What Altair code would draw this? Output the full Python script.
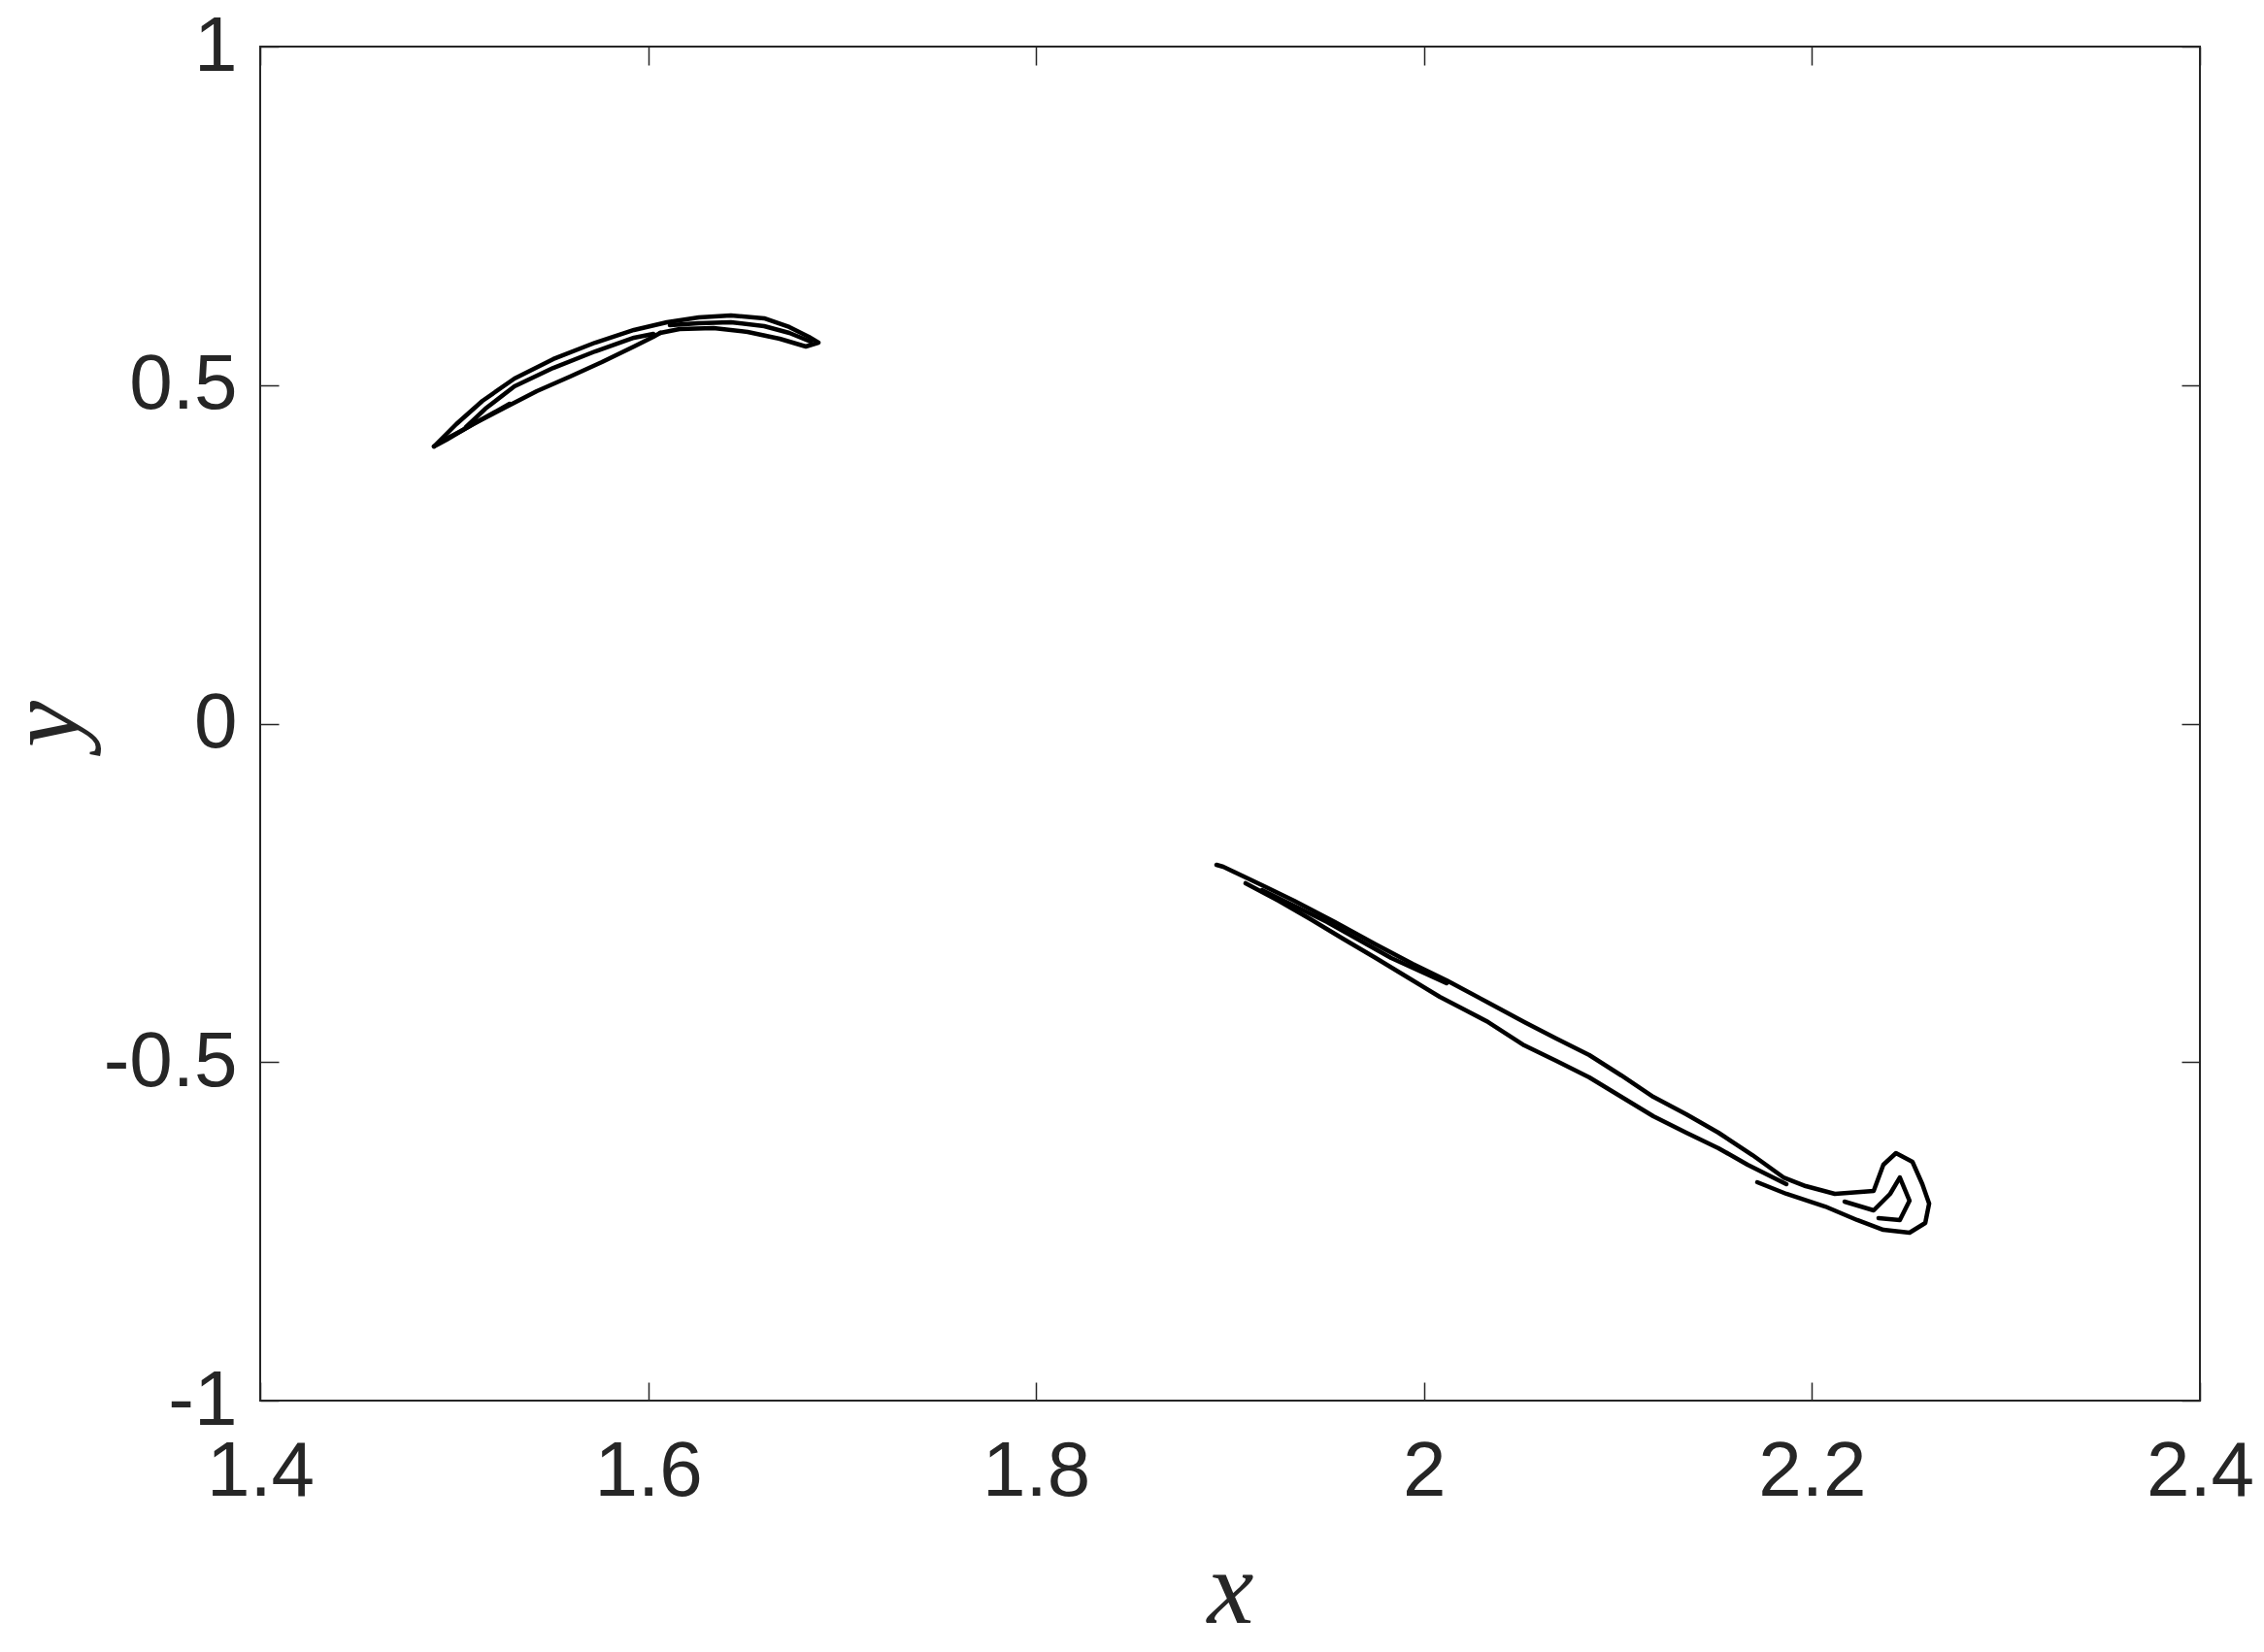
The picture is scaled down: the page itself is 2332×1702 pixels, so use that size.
import altair as alt
import pandas as pd

# ---- tick values / labels ----
X_TICKS = [1.4, 1.6, 1.8, 2.0, 2.2, 2.4]
Y_TICKS = [-1, -0.5, 0, 0.5, 1]

# ---- attractor strands (data units) ----
# upper piece
up_outer_x = [1.4896, 1.5011, 1.5146, 1.5311, 1.5511, 1.5727, 1.5927, 1.6097, 1.6262, 1.6427,
              1.6598, 1.6728, 1.6828, 1.6878, 1.6813, 1.6678, 1.6513, 1.6337, 1.6162, 1.6062]
up_outer_y = [0.4093, 0.4423, 0.4767, 0.5097, 0.5384, 0.5627, 0.5814, 0.5928, 0.6000, 0.6029,
              0.5986, 0.5857, 0.5713, 0.5627, 0.5570, 0.5685, 0.5785, 0.5842, 0.5828, 0.5771]
up_lower_x = [1.6062, 1.6027, 1.5927, 1.5762, 1.5597, 1.5426, 1.5261, 1.5096, 1.4961, 1.4896]
up_lower_y = [0.5771, 0.5713, 0.5570, 0.5340, 0.5125, 0.4910, 0.4667, 0.4423, 0.4194, 0.4093]
up_inner_x = [1.5061, 1.5161, 1.5311, 1.5511, 1.5727, 1.5927, 1.6027]
up_inner_y = [0.4380, 0.4652, 0.4982, 0.5254, 0.5498, 0.5699, 0.5756]
up_band_x = [1.6112, 1.6262, 1.6427, 1.6598, 1.6728, 1.6838]
up_band_y = [0.5885, 0.5914, 0.5928, 0.5871, 0.5771, 0.5642]
up_tip_x = [1.4921, 1.5036, 1.5161, 1.5286]
up_tip_y = [0.4150, 0.4323, 0.4523, 0.4724]

# lower piece
lo_main_x = [1.8930, 1.8965, 1.9165, 1.9330, 1.9541, 1.9751, 1.9941, 2.0116, 2.0331, 2.0517,
             2.0682, 2.0852, 2.1017, 2.1182, 2.1352, 2.1518, 2.1693, 2.1853, 2.1968, 2.2118,
             2.2318, 2.2368, 2.2433, 2.2518, 2.2569, 2.2604, 2.2584, 2.2503, 2.2368, 2.2233,
             2.2068, 2.1868, 2.1718]
lo_main_y = [-0.2086, -0.2115, -0.2387, -0.2616, -0.2932, -0.3262, -0.3548, -0.3792, -0.4122, -0.4409,
             -0.4652, -0.4896, -0.5197, -0.5513, -0.5770, -0.6043, -0.6373, -0.6703, -0.6832, -0.6946,
             -0.6903, -0.6516, -0.6344, -0.6473, -0.6803, -0.7090, -0.7376, -0.7520, -0.7477, -0.7333,
             -0.7133, -0.6946, -0.6774]
lo_lower_x = [1.9080, 1.9250, 1.9415, 1.9581, 1.9751, 1.9916, 2.0081, 2.0216, 2.0331, 2.0517,
              2.0682, 2.0852, 2.1017, 2.1182, 2.1352, 2.1518, 2.1668, 2.1768, 2.1868]
lo_lower_y = [-0.2358, -0.2616, -0.2889, -0.3176, -0.3462, -0.3749, -0.4036, -0.4237, -0.4409, -0.4753,
              -0.4982, -0.5226, -0.5513, -0.5799, -0.6043, -0.6272, -0.6516, -0.6659, -0.6803]
lo_hook_x = [2.2168, 2.2318, 2.2403, 2.2453, 2.2503, 2.2453, 2.2343]
lo_hook_y = [-0.7061, -0.7190, -0.6946, -0.6703, -0.7047, -0.7333, -0.7305]
lo_band_x = [1.9165, 1.9501, 1.9831, 2.0116]
lo_band_y = [-0.2459, -0.2932, -0.3462, -0.3835]

strands = [
    ("up_outer", up_outer_x, up_outer_y),
    ("up_lower", up_lower_x, up_lower_y),
    ("up_inner", up_inner_x, up_inner_y),
    ("up_band", up_band_x, up_band_y),
    ("up_tip", up_tip_x, up_tip_y),
    ("lo_main", lo_main_x, lo_main_y),
    ("lo_lower", lo_lower_x, lo_lower_y),
    ("lo_hook", lo_hook_x, lo_hook_y),
    ("lo_band", lo_band_x, lo_band_y),
]

rows = []
for name, xs, ys in strands:
    for i, (a, b) in enumerate(zip(xs, ys)):
        rows.append({"strand": name, "i": i, "x": a, "y": b})
df = pd.DataFrame(rows)

W, H = 1998, 1395
TXT = "#262626"
FONT = "Liberation Sans"

xs_scale = alt.Scale(domain=[1.4, 2.4], nice=False, zero=False)
ys_scale = alt.Scale(domain=[-1, 1], nice=False, zero=False)

main = alt.Chart(df).mark_line(
    color="black", strokeWidth=4.5, strokeJoin="round", strokeCap="round"
).encode(
    x=alt.X("x:Q", scale=xs_scale, axis=alt.Axis(
        orient="bottom", values=X_TICKS, labelExpr="'' + datum.value",
        domain=False, ticks=False, grid=False,
        labelFont=FONT, labelFontSize=80, labelColor=TXT, labelPadding=34, labelFlush=False,
        title="x", titleFont="Liberation Serif", titleFontStyle="italic", titleFontWeight="normal",
        titleFontSize=108, titleColor=TXT, titleX=W / 2, titleY=228,
        titleBaseline="alphabetic", titleAlign="center")),
    y=alt.Y("y:Q", scale=ys_scale, axis=alt.Axis(
        orient="left", values=Y_TICKS, labelExpr="'' + datum.value",
        domain=False, ticks=False, grid=False,
        labelFont=FONT, labelFontSize=80, labelColor=TXT, labelPadding=24, labelFlush=False,
        title="y", titleFont="Liberation Serif", titleFontStyle="italic", titleFontWeight="normal",
        titleFontSize=108, titleColor=TXT, titleAngle=270, titleX=-188, titleY=H / 2,
        titleBaseline="alphabetic", titleAlign="center")),
    detail="strand:N",
    order="i:Q",
)


def tick_axis(orient, offset, values):
    return alt.Axis(orient=orient, offset=offset, values=values, labels=False, domain=False,
                    grid=False, ticks=True, tickSize=19, tickWidth=1.5, tickColor=TXT, title="")


ticks_a = alt.Chart(df).mark_line(opacity=0).encode(
    x=alt.X("x:Q", scale=xs_scale, axis=tick_axis("top", -H, X_TICKS)),
    y=alt.Y("y:Q", scale=ys_scale, axis=tick_axis("right", -W, Y_TICKS)),
    detail="strand:N", order="i:Q",
)
ticks_b = alt.Chart(df).mark_line(opacity=0).encode(
    x=alt.X("x:Q", scale=xs_scale, axis=tick_axis("bottom", -H, X_TICKS)),
    y=alt.Y("y:Q", scale=ys_scale, axis=tick_axis("left", -W, Y_TICKS)),
    detail="strand:N", order="i:Q",
)

chart = alt.layer(main, ticks_a, ticks_b).resolve_axis(
    x="independent", y="independent"
).properties(
    width=W, height=H,
    autosize=alt.AutoSizeParams(type="none"),
    padding={"left": 260, "top": 40, "right": 58, "bottom": 259},
    background="white",
).configure_view(stroke=TXT, strokeWidth=2)

chart.save("out.html", embed_options={"renderer": "svg", "actions": False})
